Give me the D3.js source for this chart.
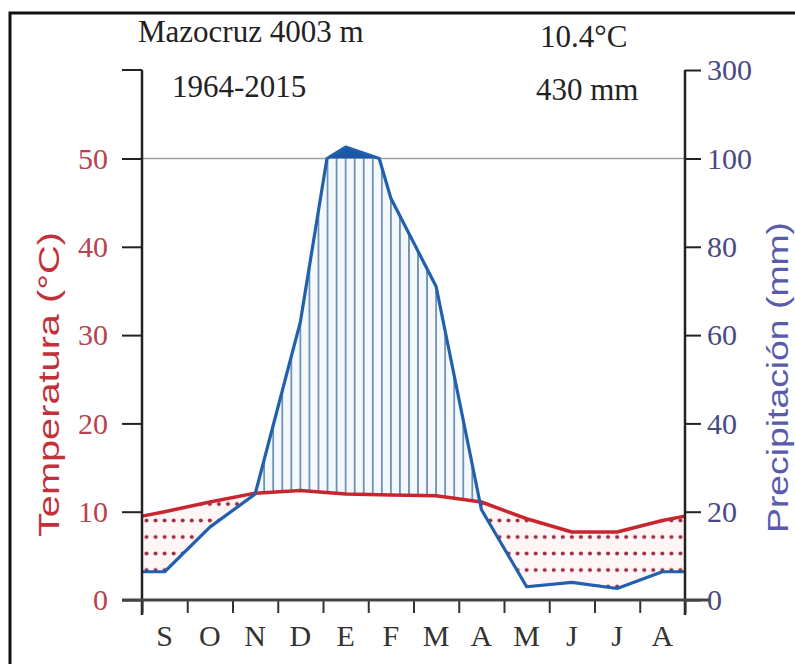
<!DOCTYPE html>
<html>
<head>
<meta charset="utf-8">
<title>Mazocruz climate diagram</title>
<script src="https://cdn.jsdelivr.net/npm/d3@7"></script>
<style>
  body { margin: 0; background: #fff; }
  svg { display: block; }
</style>
</head>
<body>
<svg id="chart" width="795" height="664"></svg>
<script>
// data (Sep..Aug)
var months = ["S", "O", "N", "D", "E", "F", "M", "A", "M", "J", "J", "A"];
var temperature = [10.0, 11.1, 12.1, 12.4, 12.0, 11.9, 11.8, 11.1, 9.2, 7.7, 7.7, 9.0];
var precipitation = [6.4, 16.5, 24, 63, 126, 91, 71, 20.5, 3.0, 4.0, 2.6, 6.4];
var tempTicks = [0, 10, 20, 30, 40, 50];
var precTicks = [0, 20, 40, 60, 80, 100, 300];
var station = "Mazocruz 4003 m";
var period = "1964-2015";
var meanTemp = "10.4°C";
var totalPrec = "430 mm";

var svg = d3.select("#chart");
var serif = "'Liberation Serif', 'Times New Roman', serif";
var sans = "'Liberation Sans', Arial, sans-serif";

// scales
var x = d3.scaleLinear().domain([0, 12]).range([142, 685]);
var xBand = d3.scaleBand().domain(d3.range(12)).range([142, 685]);
var yT = d3.scaleLinear().domain([0, 50]).range([600, 158.5]);
var yP = d3.scaleLinear().domain([0, 100, 300]).range([600, 158.5, 70]); // compressed above 100 mm

// points at mid month, edges take the Aug/Sep mean
function withEdges(vals) {
  var edge = (vals[0] + vals[vals.length - 1]) / 2;
  var pts = [[0, edge]];
  vals.forEach(function(v, i) { pts.push([i + 0.5, v]); });
  pts.push([12, edge]);
  return pts;
}
// add a break where the line passes 100 mm (scale changes there)
function breakAt100(pts) {
  var out = [pts[0]];
  for (var i = 1; i < pts.length; i++) {
    var a = pts[i - 1], b = pts[i];
    if ((a[1] - 100) * (b[1] - 100) < 0) {
      var t = (100 - a[1]) / (b[1] - a[1]);
      out.push([a[0] + t * (b[0] - a[0]), 100]);
    }
    out.push(b);
  }
  return out;
}
var tPts = withEdges(temperature);
var pPts = breakAt100(withEdges(precipitation));

// frame
svg.append("rect")
  .attr("x", 10).attr("y", 13).attr("width", 830).attr("height", 700)
  .attr("fill", "none").attr("stroke", "#111").attr("stroke-width", 3);

// patterns
var defs = svg.append("defs");
var step = (x(1) - x(0)) / 5;
var hatch = defs.append("pattern").attr("id", "hatch")
  .attr("patternUnits", "userSpaceOnUse")
  .attr("x", x(0)).attr("y", 0).attr("width", step).attr("height", 10);
hatch.append("rect").attr("width", step).attr("height", 10).attr("fill", "#f3f8fc");
hatch.append("line")
  .attr("x1", step / 2).attr("x2", step / 2).attr("y1", 0).attr("y2", 10)
  .attr("stroke", "#5f84ad").attr("stroke-width", 1.6);

var rowH = 16.5;
var dots = defs.append("pattern").attr("id", "dots")
  .attr("patternUnits", "userSpaceOnUse")
  .attr("x", x(0)).attr("y", 520.5 - rowH / 2).attr("width", step).attr("height", rowH);
dots.append("rect").attr("width", step).attr("height", rowH).attr("fill", "#fdf5f6");
dots.append("circle").attr("cx", step / 2).attr("cy", rowH / 2).attr("r", 2).attr("fill", "#9c2a40");

// clip areas
defs.append("clipPath").attr("id", "aboveTemp").append("path")
  .attr("d", d3.area().x(function(d) { return x(d[0]); }).y0(0).y1(function(d) { return yT(d[1]); })(tPts));
defs.append("clipPath").attr("id", "abovePrec").append("path")
  .attr("d", d3.area().x(function(d) { return x(d[0]); }).y0(0).y1(function(d) { return yP(d[1]); })(pPts));

// 100 mm line
svg.append("line")
  .attr("x1", x(0)).attr("x2", x(12)).attr("y1", yP(100)).attr("y2", yP(100))
  .attr("stroke", "#a0a0a0").attr("stroke-width", 1.6);

// humid period (hatched)
svg.append("path")
  .attr("d", d3.area().x(function(d) { return x(d[0]); })
    .y0(600).y1(function(d) { return yP(Math.min(d[1], 100)); })(pPts))
  .attr("fill", "url(#hatch)").attr("clip-path", "url(#aboveTemp)");

// arid period (dots)
svg.append("path")
  .attr("d", d3.area().x(function(d) { return x(d[0]); })
    .y0(600).y1(function(d) { return yT(d[1]); })(tPts))
  .attr("fill", "url(#dots)").attr("clip-path", "url(#abovePrec)");

// perhumid (> 100 mm)
svg.append("path")
  .attr("d", d3.area().x(function(d) { return x(d[0]); })
    .y0(yP(100)).y1(function(d) { return yP(Math.max(d[1], 100)); })(pPts))
  .attr("fill", "#1d58a3");

// lines
svg.append("path")
  .attr("d", d3.line().x(function(d) { return x(d[0]); }).y(function(d) { return yT(d[1]); })(tPts))
  .attr("fill", "none").attr("stroke", "#c8262e").attr("stroke-width", 3.5).attr("stroke-linejoin", "round");
svg.append("path")
  .attr("d", d3.line().x(function(d) { return x(d[0]); }).y(function(d) { return yP(d[1]); })(pPts))
  .attr("fill", "none").attr("stroke", "#2160ac").attr("stroke-width", 3.2).attr("stroke-linejoin", "round");

// axes
var gL = svg.append("g").attr("transform", "translate(" + x(0) + ",0)")
  .call(d3.axisLeft(yT).tickValues(tempTicks).tickSize(20).tickPadding(14));
gL.select(".domain").remove();
gL.selectAll(".tick line").attr("stroke", "#222").attr("stroke-width", 2);
gL.selectAll(".tick text").attr("font-family", serif).attr("font-size", 30).attr("fill", "#b8434f");

var gR = svg.append("g").attr("transform", "translate(" + x(12) + ",0)")
  .call(d3.axisRight(yP).tickValues(precTicks).tickSize(16).tickPadding(6));
gR.select(".domain").remove();
gR.selectAll(".tick line").attr("stroke", "#222").attr("stroke-width", 2);
gR.selectAll(".tick text").attr("font-family", serif).attr("font-size", 30).attr("fill", "#4a4a82");

// vertical axis lines + top tick on left
[x(0), x(12)].forEach(function(px) {
  svg.append("line").attr("x1", px).attr("x2", px).attr("y1", yP(300)).attr("y2", 615)
    .attr("stroke", "#222").attr("stroke-width", 2.5);
});
svg.append("line").attr("x1", x(0) - 20).attr("x2", x(0)).attr("y1", yP(300)).attr("y2", yP(300))
  .attr("stroke", "#222").attr("stroke-width", 2);

// bottom axis
var gB = svg.append("g").attr("transform", "translate(0,600)")
  .call(d3.axisBottom(x).tickValues(d3.range(13)).tickSize(13).tickFormat(""));
gB.select(".domain").remove();
gB.selectAll(".tick line").attr("stroke", "#333").attr("stroke-width", 2);
svg.append("line").attr("x1", 122).attr("x2", 709).attr("y1", 600).attr("y2", 600)
  .attr("stroke", "#444").attr("stroke-width", 3);

var gM = svg.append("g").attr("transform", "translate(0,600)")
  .call(d3.axisBottom(xBand).tickSize(0).tickFormat(function(i) { return months[i]; }));
gM.select(".domain").remove();
gM.selectAll(".tick text").attr("y", 46).attr("dy", null)
  .attr("font-family", serif).attr("font-size", 30).attr("fill", "#333");

// axis titles
svg.append("text")
  .attr("transform", "translate(59,384.5) rotate(-90)")
  .attr("text-anchor", "middle").attr("font-family", sans).attr("font-size", 30)
  .attr("textLength", 305).attr("lengthAdjust", "spacingAndGlyphs")
  .attr("fill", "#c2313a").text("Temperatura (°C)");
svg.append("text")
  .attr("transform", "translate(788,377.5) rotate(-90)")
  .attr("text-anchor", "middle").attr("font-family", sans).attr("font-size", 30)
  .attr("textLength", 311).attr("lengthAdjust", "spacingAndGlyphs")
  .attr("fill", "#5b5bae").text("Precipitación (mm)");

// header texts
var header = [
  {t: station, x: 138, y: 42},
  {t: period, x: 172, y: 97},
  {t: meanTemp, x: 540, y: 47},
  {t: totalPrec, x: 536, y: 100}
];
svg.selectAll("text.head").data(header).enter().append("text")
  .attr("class", "head")
  .attr("x", function(d) { return d.x; }).attr("y", function(d) { return d.y; })
  .attr("font-family", serif).attr("font-size", 31).attr("fill", "#222")
  .text(function(d) { return d.t; });
</script>
</body>
</html>
